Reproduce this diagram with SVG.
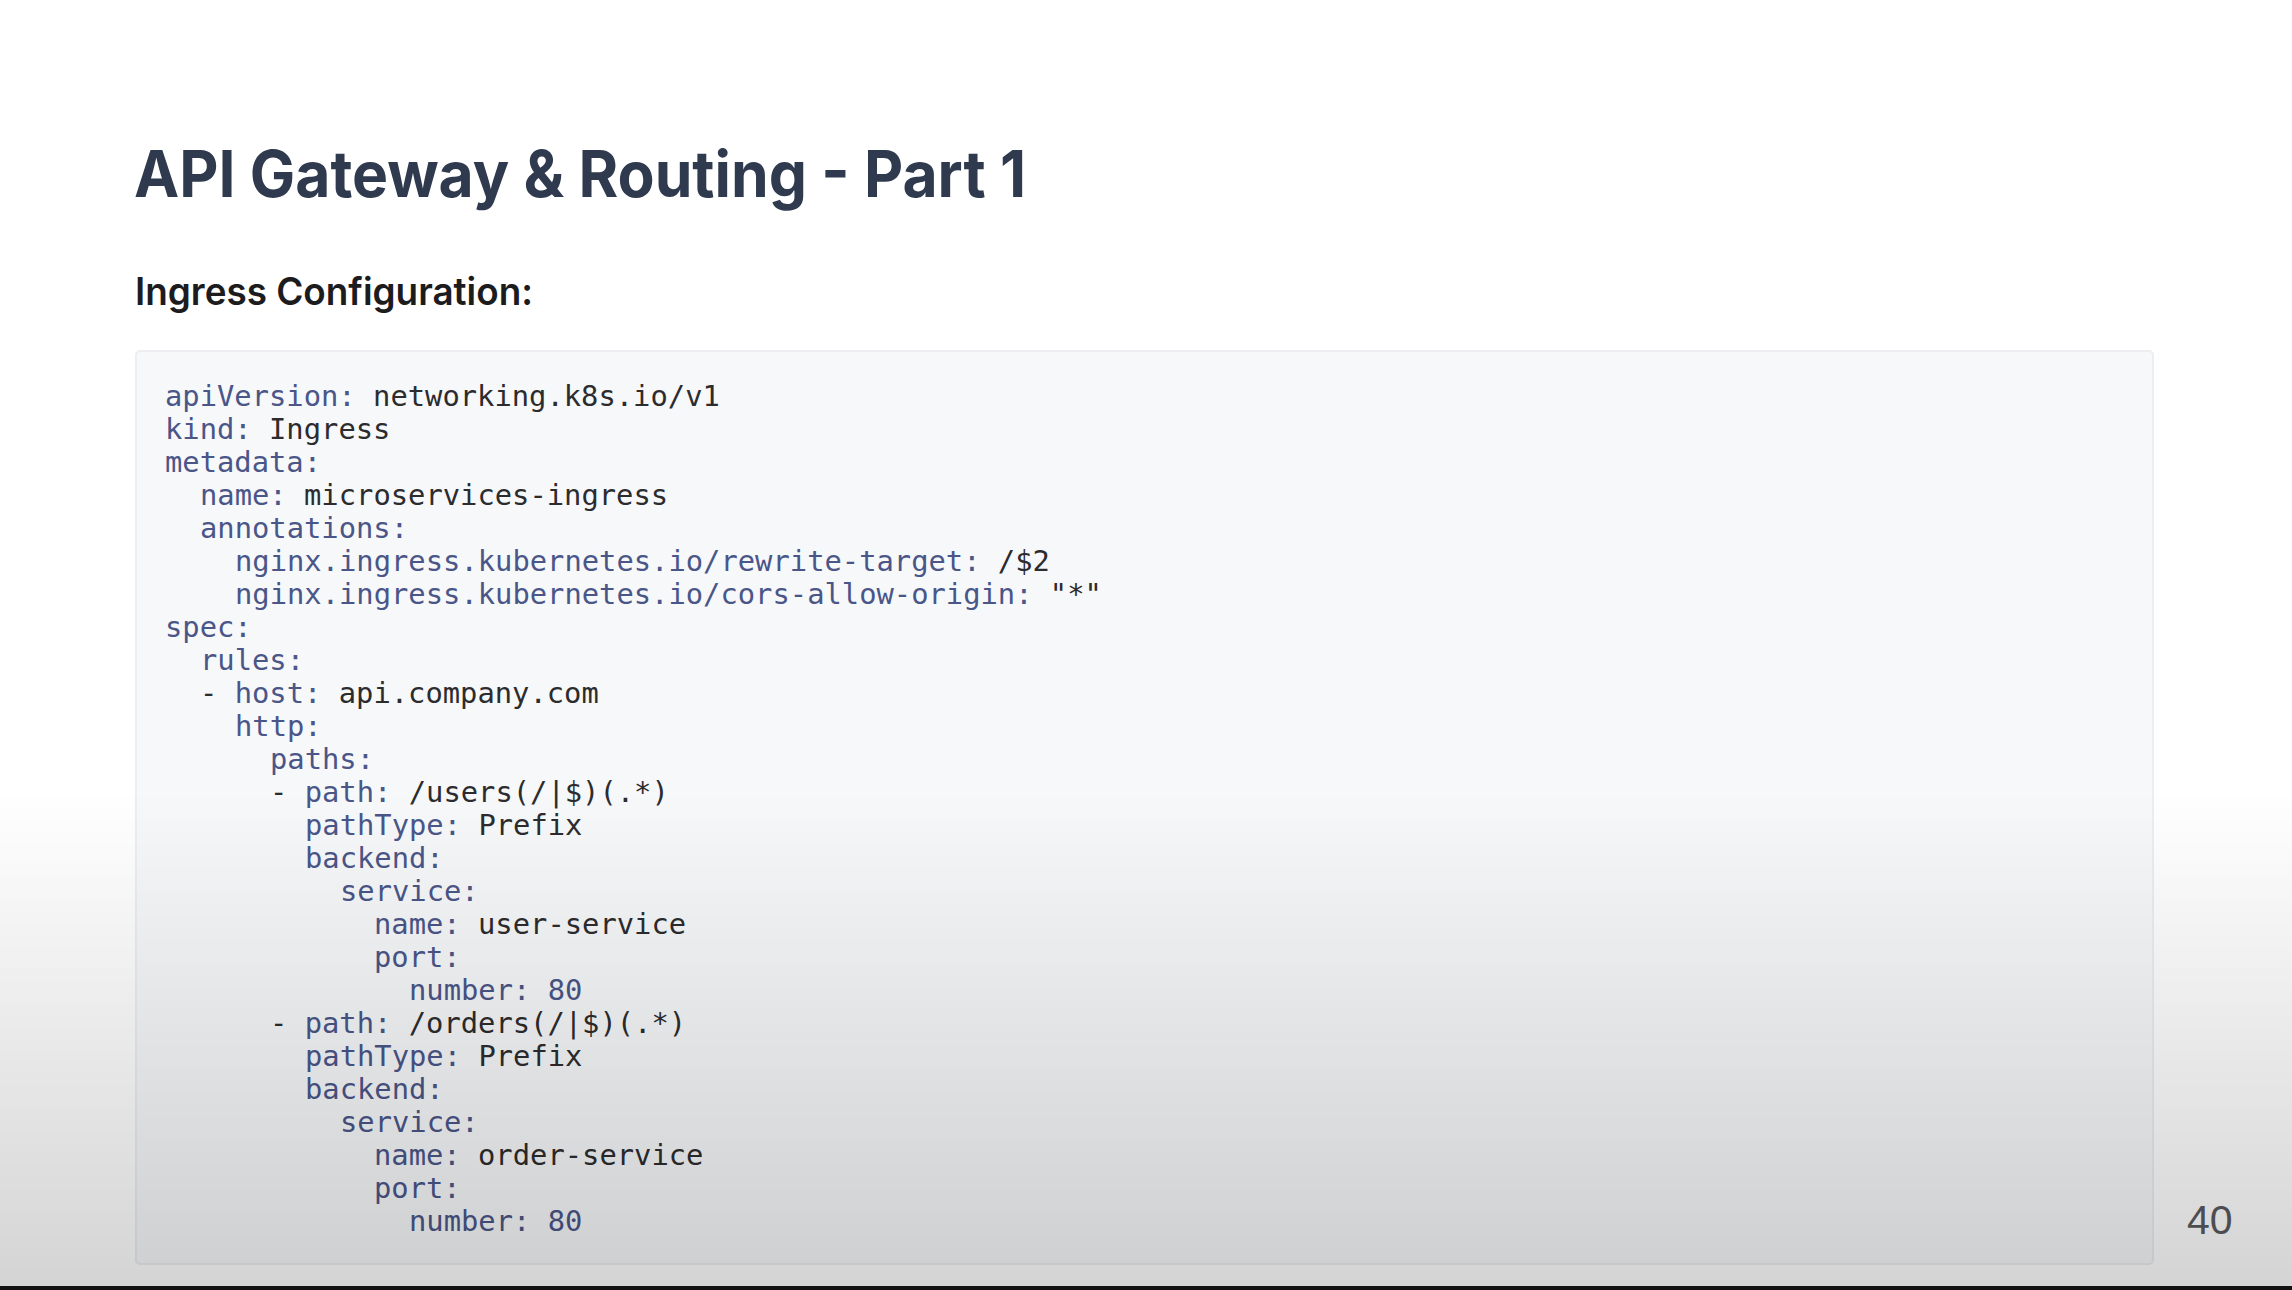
<svg xmlns="http://www.w3.org/2000/svg" width="2292" height="1290" viewBox="0 0 2292 1290">
<defs>
<style>
.title{font-family:Inter,"Noto Sans","Liberation Sans",sans-serif;font-weight:700;font-size:64px;fill:#2f3a4f}
.sub{font-family:Inter,"Noto Sans","Liberation Sans",sans-serif;font-weight:600;font-size:38px;fill:#1c1c1e}
.code{font-family:"DejaVu Sans Mono","Liberation Mono",monospace;font-size:28.8px;fill:#2c2c2e}
.k{fill:#4a5688}
.v{fill:#2c2c2e}
.pg{font-family:"Liberation Sans",Arial,sans-serif;font-size:41px;fill:#5a5a5e}
</style>
<linearGradient id="shade" x1="0" y1="0" x2="0" y2="1">
<stop offset="0" stop-color="#000" stop-opacity="0"/>
<stop offset="1" stop-color="#000" stop-opacity="0.17"/>
</linearGradient>
</defs>
<rect x="0" y="0" width="2292" height="1290" fill="#ffffff"/>
<g id="title"><text class="title" x="134" y="197" textLength="892" lengthAdjust="spacingAndGlyphs">API Gateway &amp; Routing - Part 1</text></g>
<g id="subtitle"><text class="sub" x="135" y="305" textLength="398" lengthAdjust="spacingAndGlyphs">Ingress Configuration:</text></g>
<g id="codebox">
<rect x="136" y="351" width="2017" height="913" rx="4" fill="#f7f8fa" stroke="#eceef1" stroke-width="2"/>
<g class="code">
<text x="165" y="406"><tspan class="k">apiVersion:</tspan> <tspan class="v">networking.k8s.io/v1</tspan></text>
<text x="165" y="439"><tspan class="k">kind:</tspan> <tspan class="v">Ingress</tspan></text>
<text x="165" y="472"><tspan class="k">metadata:</tspan></text>
<text x="200" y="505"><tspan class="k">name:</tspan> <tspan class="v">microservices-ingress</tspan></text>
<text x="200" y="538"><tspan class="k">annotations:</tspan></text>
<text x="235" y="571"><tspan class="k">nginx.ingress.kubernetes.io/rewrite-target:</tspan> <tspan class="v">/$2</tspan></text>
<text x="235" y="604"><tspan class="k">nginx.ingress.kubernetes.io/cors-allow-origin:</tspan> <tspan class="v">"*"</tspan></text>
<text x="165" y="637"><tspan class="k">spec:</tspan></text>
<text x="200" y="670"><tspan class="k">rules:</tspan></text>
<text x="200" y="703"><tspan class="v">-</tspan> <tspan class="k">host:</tspan> <tspan class="v">api.company.com</tspan></text>
<text x="235" y="736"><tspan class="k">http:</tspan></text>
<text x="270" y="769"><tspan class="k">paths:</tspan></text>
<text x="270" y="802"><tspan class="v">-</tspan> <tspan class="k">path:</tspan> <tspan class="v">/users(/|$)(.*)</tspan></text>
<text x="305" y="835"><tspan class="k">pathType:</tspan> <tspan class="v">Prefix</tspan></text>
<text x="305" y="868"><tspan class="k">backend:</tspan></text>
<text x="340" y="901"><tspan class="k">service:</tspan></text>
<text x="374" y="934"><tspan class="k">name:</tspan> <tspan class="v">user-service</tspan></text>
<text x="374" y="967"><tspan class="k">port:</tspan></text>
<text x="409" y="1000"><tspan class="k">number: 80</tspan></text>
<text x="270" y="1033"><tspan class="v">-</tspan> <tspan class="k">path:</tspan> <tspan class="v">/orders(/|$)(.*)</tspan></text>
<text x="305" y="1066"><tspan class="k">pathType:</tspan> <tspan class="v">Prefix</tspan></text>
<text x="305" y="1099"><tspan class="k">backend:</tspan></text>
<text x="340" y="1132"><tspan class="k">service:</tspan></text>
<text x="374" y="1165"><tspan class="k">name:</tspan> <tspan class="v">order-service</tspan></text>
<text x="374" y="1198"><tspan class="k">port:</tspan></text>
<text x="409" y="1231"><tspan class="k">number: 80</tspan></text>
</g>
</g>
<g id="page"><text class="pg" x="2187" y="1234">40</text></g>
<rect x="0" y="790" width="2292" height="500" fill="url(#shade)"/>
<rect x="0" y="1286" width="2292" height="4" fill="#111"/>
</svg>
